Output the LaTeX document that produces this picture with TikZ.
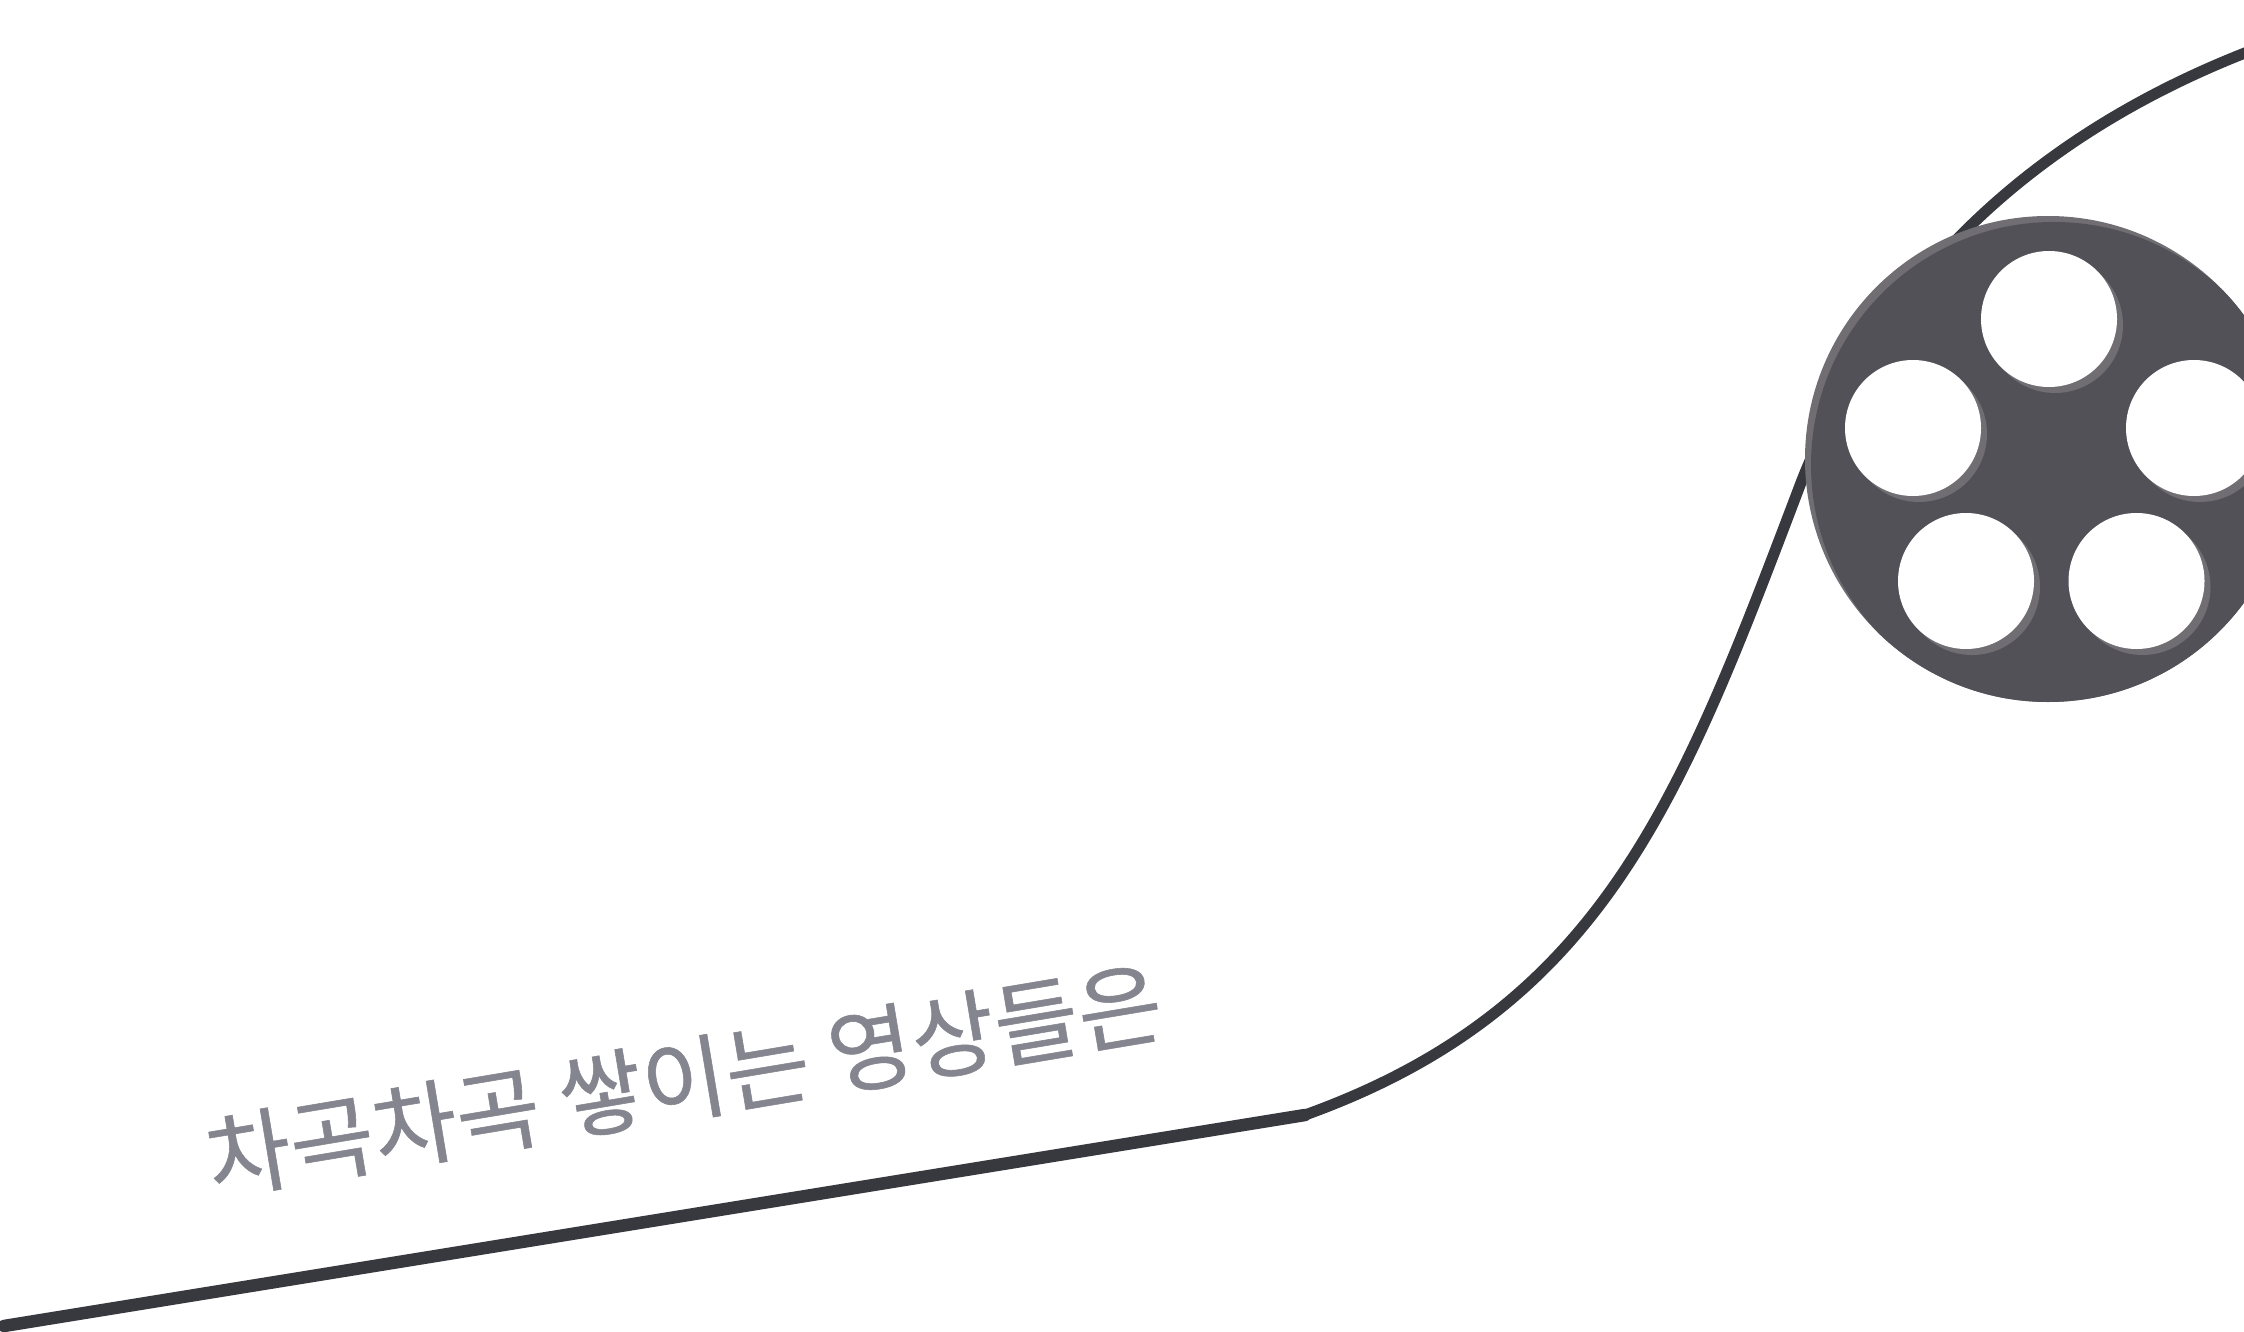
\documentclass[tikz,border=0pt]{standalone}
\usepackage{fontspec}
\newfontfamily\krfont[FakeBold=0.6]{Noto Sans CJK KR}
\definecolor{filmline}{HTML}{38383F}
\definecolor{reeldark}{HTML}{515157}
\definecolor{reellight}{HTML}{706E73}
\definecolor{captiongray}{HTML}{85858F}
\tikzset{
  filmstrip/.style={draw=filmline,line cap=round,line join=round,fill=none},
  holeshade/.style={fill=reellight,draw=none},
  holewhite/.style={fill=white,draw=none},
}
\begin{document}
\begin{tikzpicture}[x=1pt,y=-1pt]
\useasboundingbox (0,0) rectangle (2244,1332);
\clip (0,0) rectangle (2244,1332);
\fill[white] (0,0) rectangle (2244,1332);
\draw[filmstrip,line width=12.5pt] (4,1326) -- (1305,1115);
\draw[filmstrip,line width=11pt] (1305,1115)
  .. controls (1605,1007) and (1682,796) .. (1802,480)
  .. controls (1892,254) and (2062,124) .. (2250,51);
% reel
\fill[reellight] (2048,459) circle (243);
\begin{scope}
\clip (2048,459) circle (243);
\fill[reeldark] (2054,465) circle (243);
\end{scope}
\foreach \hx/\hy in {2049/319, 1913/428, 2194/428, 1966/581, 2136.5/581}{
  \fill[holeshade] (\hx+6,\hy+6) circle (68);
  \fill[holewhite] (\hx,\hy) circle (68);
}
\node[text=captiongray,rotate=9.5,inner sep=0pt] (caption) at (684,1080) {\krfont\fontsize{91.5}{110}\selectfont 차곡차곡 쌓이는 영상들은};
\end{tikzpicture}
\end{document}
